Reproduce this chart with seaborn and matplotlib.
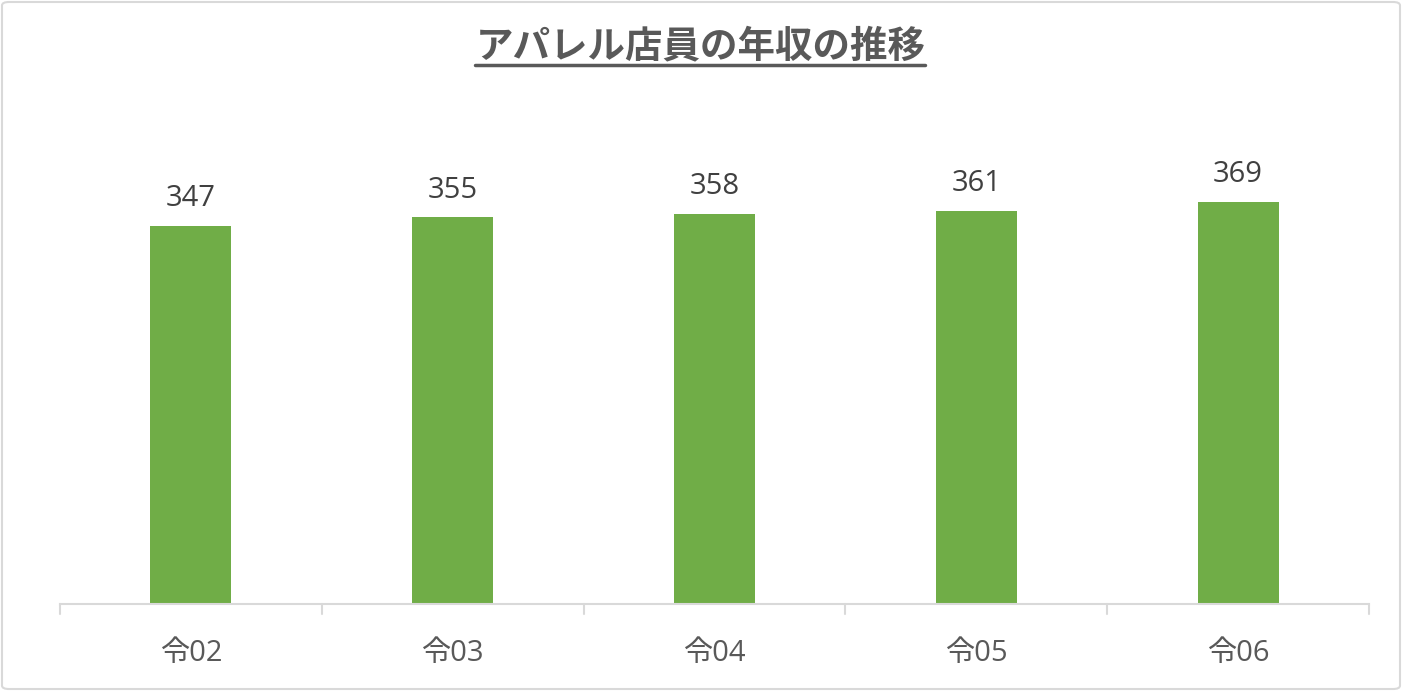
import matplotlib
matplotlib.use("Agg")
import matplotlib.pyplot as plt
import seaborn as sns
import pandas as pd
from matplotlib.lines import Line2D
from matplotlib.patches import FancyBboxPatch
from matplotlib.transforms import blended_transform_factory

categories = ["令02", "令03", "令04", "令05", "令06"]
values = [347, 355, 358, 361, 369]
title = "アパレル店員の年収の推移"

sns.set_theme(style="white")
plt.rcParams['font.family'] = ['Open Sans', 'Noto Sans CJK JP', 'DejaVu Sans']

df = pd.DataFrame({"cat": categories, "val": values})

fig = plt.figure(figsize=(14.02, 6.91), dpi=100)
ax = fig.add_axes([60/1402, 87/691, (1369-60)/1402, (604-168)/691])

sns.barplot(data=df, x="cat", y="val", color="#70AD47", width=0.31,
            saturation=1, ax=ax, edgecolor="none")
ax.set_ylim(0, 400)
ax.set_xlim(-0.5, len(categories) - 0.5)
ax.set_xlabel("")
ax.set_ylabel("")
ax.set_yticks([])
for s in ["top", "right", "left"]:
    ax.spines[s].set_visible(False)
ax.spines["bottom"].set_color("#D9D9D9")
ax.spines["bottom"].set_linewidth(1.5)

ax.set_xticks(range(len(categories)))
ax.set_xticklabels(categories, fontsize=21, color="#595959")
ax.tick_params(axis="x", length=0, pad=25)
tr = blended_transform_factory(ax.transData, ax.transAxes)
for b in [i - 0.5 for i in range(len(categories) + 1)]:
    ax.add_line(Line2D([b, b], [0, -10/436], transform=tr, color="#D9D9D9",
                       lw=1.5, clip_on=False))

for i, v in enumerate(values):
    ax.annotate(str(v), (i, v), xytext=(0, 9), textcoords="offset points",
                ha="center", va="bottom", fontsize=21, color="#404040")

fig.text(0.5, 1 - 46/691, title, ha="center", va="center", fontsize=27,
         fontweight="bold", color="#595959",
         family=['Noto Sans CJK JP', 'DejaVu Sans'])
fig.add_artist(Line2D([475/1402, 925/1402], [1 - 65/691, 1 - 65/691],
                      color="#595959", lw=2.5, transform=fig.transFigure))

fig.add_artist(FancyBboxPatch((2/1402, 2/691), 1 - 4/1402, 1 - 4/691,
                              boxstyle="round,pad=0,rounding_size=0.005",
                              transform=fig.transFigure, fill=False,
                              edgecolor="#D9D9D9", lw=1.5))

fig.savefig("out.png", dpi=100)
